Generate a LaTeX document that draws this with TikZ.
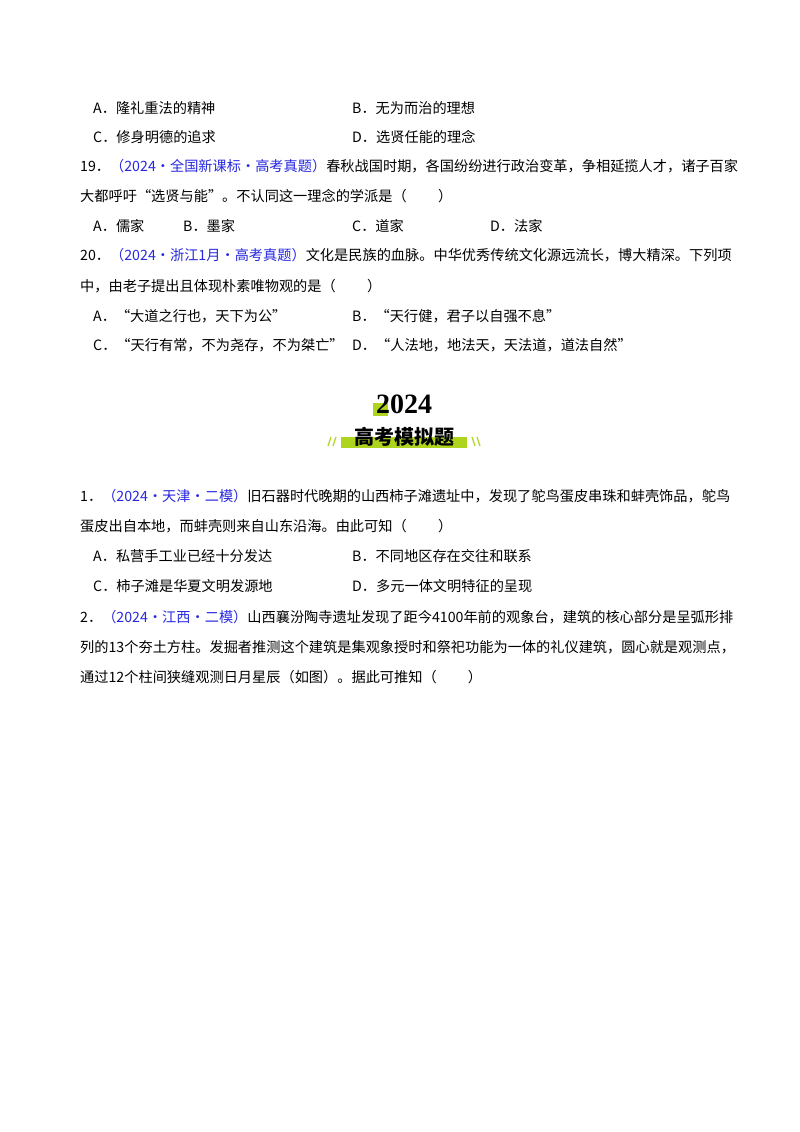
\documentclass[tikz,border=0pt]{standalone}
\usepackage{fontspec}
\setmainfont{Noto Sans CJK SC}
\newfontfamily\yrfont{Liberation Serif}
\begin{document}
\begin{tikzpicture}[x=1pt,y=-1pt,
  t/.style={anchor=base west,inner sep=0pt,font=\fontsize{14.2}{16}\selectfont},
  hd/.style={anchor=base,inner sep=0pt}]
\definecolor{refb}{RGB}{40,40,225}
\definecolor{lime}{RGB}{175,212,30}
\useasboundingbox[fill=white] (0,0) rectangle (800,1132);
\node[t] (a1) at (93,113) {A．隆礼重法的精神};
\node[t] (b1) at (352,113) {B．无为而治的理想};
\node[t] (c1) at (93,142) {C．修身明德的追求};
\node[t] (d1) at (352,142) {D．选贤任能的理念};
\node[t] (q19) at (80,171) {19．\textcolor{refb}{（2024·全国新课标·高考真题）}春秋战国时期，各国纷纷进行政治变革，争相延揽人才，诸子百家};
\node[t] (q19b) at (80,201) {大都呼吁“选贤与能”。不认同这一理念的学派是（\hspace{2.2em}）};
\node[t] (a2) at (93,231) {A．儒家};
\node[t] (b2) at (183,231) {B．墨家};
\node[t] (c2) at (352,231) {C．道家};
\node[t] (d2) at (490,231) {D．法家};
\node[t] (q20) at (80,260) {20．\textcolor{refb}{（2024·浙江1月·高考真题）}文化是民族的血脉。中华优秀传统文化源远流长，博大精深。下列项};
\node[t] (q20b) at (80,291) {中，由老子提出且体现朴素唯物观的是（\hspace{2.2em}）};
\node[t] (a3) at (93,321) {A．“大道之行也，天下为公”};
\node[t] (b3) at (352,321) {B．“天行健，君子以自强不息”};
\node[t] (c3) at (93,350) {C．“天行有常，不为尧存，不为桀亡”};
\node[t] (d3) at (352,350) {D．“人法地，地法天，天法道，道法自然”};
% header
\fill[lime] (373,403) rectangle (388,416);
\node[hd,font=\yrfont\fontsize{28}{28}\selectfont\bfseries] (yr) at (404,413) {2024};
\fill[lime] (341,437) rectangle (467,448);
\node[hd,font=\fontsize{20}{20}\selectfont\bfseries] (ttl) at (404,444) {高考模拟题};
\draw[lime,line width=1.2pt] (328,446) -- (331,437) (333,446) -- (336,437);
\draw[lime,line width=1.2pt] (472,437) -- (475,446) (477,437) -- (480,446);
\node[t] (q1) at (80,501) {1．\textcolor{refb}{（2024·天津·二模）}旧石器时代晚期的山西柿子滩遗址中，发现了鸵鸟蛋皮串珠和蚌壳饰品，鸵鸟};
\node[t] (q1b) at (80,531) {蛋皮出自本地，而蚌壳则来自山东沿海。由此可知（\hspace{2.2em}）};
\node[t] (a4) at (93,561) {A．私营手工业已经十分发达};
\node[t] (b4) at (352,561) {B．不同地区存在交往和联系};
\node[t] (c4) at (93,591) {C．柿子滩是华夏文明发源地};
\node[t] (d4) at (352,591) {D．多元一体文明特征的呈现};
\node[t] (q2) at (80,622) {2．\textcolor{refb}{（2024·江西·二模）}山西襄汾陶寺遗址发现了距今4100年前的观象台，建筑的核心部分是呈弧形排};
\node[t] (q2b) at (80,652) {列的13个夯土方柱。发掘者推测这个建筑是集观象授时和祭祀功能为一体的礼仪建筑，圆心就是观测点，};
\node[t] (q2c) at (80,682) {通过12个柱间狭缝观测日月星辰（如图）。据此可推知（\hspace{2.2em}）};
\end{tikzpicture}
\end{document}
